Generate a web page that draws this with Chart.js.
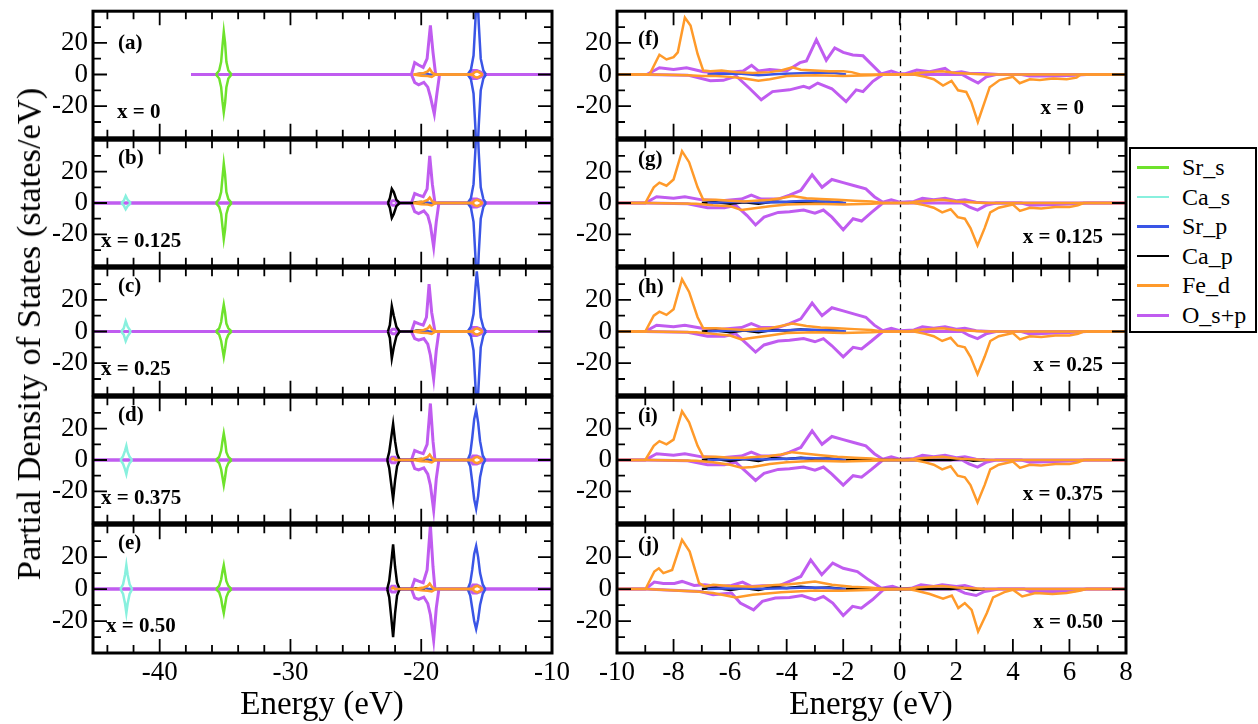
<!DOCTYPE html>
<html>
<head>
<meta charset="utf-8">
<script src="https://cdn.jsdelivr.net/npm/chart.js@4.4.1/dist/chart.umd.min.js"></script>
<style>
  body { margin: 0; background: #fff; width: 1258px; height: 724px; position: relative; overflow: hidden; font-family: "Liberation Serif", "Times New Roman", serif; }
  canvas { position: absolute; }
  .txt { position: absolute; white-space: nowrap; color: #000; }
  .tag { font-weight: bold; font-size: 21px; line-height: 24px; }
  .title { font-size: 33px; line-height: 36px; }
  .ytitle { font-size: 34.5px; line-height: 36px; }
  #legend { position: absolute; left: 1129px; top: 147px; width: 124px; height: 182px; border: 2px solid #000; background: #fff; }
  .leg-row { position: absolute; left: 6px; height: 28px; font-size: 24px; line-height: 28px; }
  .leg-line { position: absolute; left: 0; top: 13px; width: 32px; height: 2.5px; }
  .leg-text { position: absolute; left: 45px; top: 0; white-space: nowrap; }
</style>
</head>
<body>
<div id="legend"></div>
<script>
// species, in legend order
const seriesNames = ['Sr_s', 'Ca_s', 'Sr_p', 'Ca_p', 'Fe_d', 'O_s+p'];
const seriesColors = ['#6ee22c', '#88f0de', '#3a55e6', '#000000', '#ff9a2a', '#c05cf0'];

const leftLetters = ['(a)', '(b)', '(c)', '(d)', '(e)'];
const rightLetters = ['(f)', '(g)', '(h)', '(i)', '(j)'];
const compositions = ['x = 0', 'x = 0.125', 'x = 0.25', 'x = 0.375', 'x = 0.50'];

const leftRange = [-45.1, -10];
const rightRange = [-10, 8];
const yRange = [-40, 40];
const yLabelTicks = [20, 0, -20];

// ---------- left column: semicore states ----------
// (a) x = 0
const a_SrS_up = [[-35.7,0],[-35.45,2.5],[-35.3,8],[-35.2,18],[-35.1,27],[-35.0,20],[-34.9,8],[-34.75,2.5],[-34.5,0]];
const a_SrS_dn = [[-35.7,0],[-35.45,-2.5],[-35.3,-8],[-35.2,-17],[-35.1,-24],[-35.0,-18],[-34.9,-8],[-34.75,-2.5],[-34.5,0]];
const a_SrP_up = [[-20.4,0],[-20.1,0.6],[-19.6,0.6],[-19.4,0],[-16.45,0],[-16.2,3],[-16.0,12],[-15.85,35],[-15.75,60],[-15.6,32],[-15.45,10],[-15.25,2.5],[-15.05,0]];
const a_SrP_dn = [[-16.45,0],[-16.2,-3],[-16.0,-12],[-15.85,-35],[-15.75,-60],[-15.6,-32],[-15.45,-10],[-15.25,-2.5],[-15.05,0]];
const a_FeD_up = [[-20.6,0],[-20.2,0.5],[-19.8,1],[-19.5,2],[-19.35,3.5],[-19.15,1],[-18.9,0],[-16.1,0],[-15.9,1.5],[-15.7,2],[-15.5,1],[-15.3,0]];
const a_FeD_dn = [[-20.6,0],[-20.0,-0.8],[-19.5,-1],[-19.2,-1.5],[-18.9,0],[-16.1,0],[-15.9,-1.5],[-15.7,-2],[-15.5,-1],[-15.3,0]];
const a_OSP_up = [[-37.6,0],[-20.75,0],[-20.5,7.5],[-20.2,6],[-19.85,4.5],[-19.55,10],[-19.3,31],[-19.1,14],[-18.9,0],[-16.35,0],[-16.05,2.5],[-15.75,2.5],[-15.45,1.5],[-15.2,0],[-10,0]];
const a_OSP_dn = [[-37.6,0],[-20.75,0],[-20.5,-5],[-20.2,-6.5],[-19.8,-5],[-19.5,-8],[-19.3,-14],[-19.0,-25],[-18.8,-12],[-18.6,0],[-16.35,0],[-16.05,-2.5],[-15.75,-2.5],[-15.45,-1.5],[-15.2,0],[-10,0]];

// (b) x = 0.125
const b_CaS_up = [[-42.95,0],[-42.75,1.5],[-42.6,4.5],[-42.45,2],[-42.2,0]];
const b_CaS_dn = [[-42.95,0],[-42.75,-1.5],[-42.6,-4],[-42.45,-2],[-42.2,0]];
const b_SrS_up = [[-35.7,0],[-35.45,2.5],[-35.3,7],[-35.2,16],[-35.1,25],[-35.0,18],[-34.9,7],[-34.75,2.5],[-34.5,0]];
const b_SrS_dn = [[-35.7,0],[-35.45,-2.5],[-35.3,-7],[-35.2,-15],[-35.1,-23],[-35.0,-17],[-34.9,-7],[-34.75,-2.5],[-34.5,0]];
const b_SrP_up = [[-20.4,0],[-20.1,0.5],[-19.6,0.5],[-19.4,0],[-16.45,0],[-16.2,3],[-16.0,12],[-15.85,35],[-15.75,60],[-15.6,32],[-15.45,10],[-15.25,2.5],[-15.05,0]];
const b_SrP_dn = [[-16.45,0],[-16.2,-3],[-16.0,-12],[-15.85,-35],[-15.75,-60],[-15.6,-32],[-15.45,-10],[-15.25,-2.5],[-15.05,0]];
const b_CaP_up = [[-22.55,0],[-22.4,3],[-22.25,9],[-22.1,7],[-21.9,2],[-21.65,0],[-20.6,0],[-20.4,0.5],[-20.0,0.6],[-19.7,0]];
const b_CaP_dn = [[-22.55,0],[-22.4,-3],[-22.25,-9.5],[-22.1,-7],[-21.9,-2],[-21.65,0]];
const b_FeD_up = [[-20.6,0],[-20.2,0.5],[-19.8,1],[-19.5,2],[-19.35,3.5],[-19.15,1],[-18.9,0],[-16.1,0],[-15.9,1.5],[-15.7,2],[-15.5,1],[-15.3,0]];
const b_FeD_dn = [[-20.6,0],[-20.0,-0.8],[-19.5,-1],[-19.2,-1.5],[-18.9,0],[-16.1,0],[-15.9,-1.5],[-15.7,-2],[-15.5,-1],[-15.3,0]];
const b_OSP_up = [[-45.1,0],[-22.4,0],[-22.2,1.5],[-22.0,1.5],[-21.8,0],[-20.75,0],[-20.5,6],[-20.2,5],[-19.85,4],[-19.55,9],[-19.35,30],[-19.15,12],[-18.95,0],[-16.35,0],[-16.05,2.5],[-15.75,2.5],[-15.45,1.5],[-15.2,0],[-10,0]];
const b_OSP_dn = [[-45.1,0],[-22.4,0],[-22.2,-1.5],[-22.0,-1.5],[-21.8,0],[-20.75,0],[-20.5,-5.5],[-20.2,-6.7],[-19.8,-5],[-19.5,-8],[-19.3,-14],[-19.05,-28],[-18.85,-12],[-18.65,0],[-16.35,0],[-16.05,-2.5],[-15.75,-2.5],[-15.45,-1.5],[-15.2,0],[-10,0]];

// (c) x = 0.25
const c_CaS_up = [[-42.95,0],[-42.75,2],[-42.6,6.5],[-42.45,3],[-42.2,0]];
const c_CaS_dn = [[-42.95,0],[-42.75,-2],[-42.6,-6],[-42.45,-3],[-42.2,0]];
const c_SrS_up = [[-35.7,0],[-35.45,2],[-35.3,6],[-35.2,12],[-35.1,17],[-35.0,12],[-34.9,5],[-34.75,2],[-34.5,0]];
const c_SrS_dn = [[-35.7,0],[-35.45,-2],[-35.3,-6],[-35.2,-11],[-35.1,-16],[-35.0,-11],[-34.9,-5],[-34.75,-2],[-34.5,0]];
const c_SrP_up = [[-20.4,0],[-20.1,0.5],[-19.6,0.5],[-19.4,0],[-16.45,0],[-16.2,3],[-16.0,11],[-15.85,28],[-15.75,38],[-15.6,25],[-15.45,9],[-15.25,2.5],[-15.05,0]];
const c_SrP_dn = [[-16.45,0],[-16.2,-3],[-16.0,-12],[-15.85,-35],[-15.75,-55],[-15.6,-32],[-15.45,-10],[-15.25,-2.5],[-15.05,0]];
const c_CaP_up = [[-22.55,0],[-22.4,4],[-22.25,16],[-22.1,10],[-21.9,3],[-21.65,0],[-20.6,0],[-20.4,0.5],[-20.0,0.6],[-19.7,0]];
const c_CaP_dn = [[-22.55,0],[-22.4,-4],[-22.25,-17],[-22.1,-10],[-21.9,-3],[-21.65,0]];
const c_FeD_up = [[-20.6,0],[-20.2,0.5],[-19.8,1],[-19.5,2],[-19.35,3.5],[-19.15,1],[-18.9,0],[-16.1,0],[-15.9,1.5],[-15.7,2],[-15.5,1],[-15.3,0]];
const c_FeD_dn = [[-20.6,0],[-20.0,-0.8],[-19.5,-1],[-19.2,-1.5],[-18.9,0],[-16.1,0],[-15.9,-1.5],[-15.7,-2],[-15.5,-1],[-15.3,0]];
const c_OSP_up = [[-45.1,0],[-22.4,0],[-22.2,1.5],[-22.0,1.5],[-21.8,0],[-20.75,0],[-20.5,6],[-20.2,5],[-19.85,4],[-19.6,9],[-19.4,30],[-19.2,12],[-18.95,0],[-16.35,0],[-16.05,2.5],[-15.75,2.5],[-15.45,1.5],[-15.2,0],[-10,0]];
const c_OSP_dn = [[-45.1,0],[-22.4,0],[-22.2,-1.5],[-22.0,-1.5],[-21.8,0],[-20.75,0],[-20.5,-4.5],[-20.2,-5.5],[-19.8,-4.5],[-19.5,-8],[-19.3,-15],[-19.05,-30],[-18.85,-12],[-18.65,0],[-16.35,0],[-16.05,-2.5],[-15.75,-2.5],[-15.45,-1.5],[-15.2,0],[-10,0]];

// (d) x = 0.375
const d_CaS_up = [[-43.0,0],[-42.8,2.5],[-42.65,6],[-42.55,9],[-42.45,5],[-42.3,2],[-42.1,0]];
const d_CaS_dn = [[-43.0,0],[-42.8,-2.5],[-42.65,-6],[-42.55,-9],[-42.45,-5],[-42.3,-2],[-42.1,0]];
const d_SrS_up = [[-35.7,0],[-35.45,2],[-35.3,6],[-35.2,12],[-35.1,17],[-35.0,12],[-34.9,5],[-34.75,2],[-34.5,0]];
const d_SrS_dn = [[-35.7,0],[-35.45,-2],[-35.3,-6],[-35.2,-11],[-35.1,-16],[-35.0,-11],[-34.9,-5],[-34.75,-2],[-34.5,0]];
const d_SrP_up = [[-20.4,0],[-20.1,0.5],[-19.6,0.5],[-19.4,0],[-16.45,0],[-16.25,4],[-16.1,14],[-15.95,26],[-15.8,32],[-15.65,24],[-15.5,12],[-15.3,3],[-15.1,0]];
const d_SrP_dn = [[-16.45,0],[-16.25,-4],[-16.1,-14],[-15.95,-25],[-15.8,-31],[-15.65,-23],[-15.5,-11],[-15.3,-3],[-15.1,0]];
const d_CaP_up = [[-22.6,0],[-22.45,5],[-22.3,14],[-22.15,23],[-22.0,12],[-21.85,4],[-21.65,0],[-20.6,0],[-20.4,0.5],[-20.0,0.6],[-19.7,0]];
const d_CaP_dn = [[-22.6,0],[-22.45,-5],[-22.3,-15],[-22.15,-25],[-22.0,-13],[-21.85,-4],[-21.65,0]];
const d_FeD_up = [[-22.3,0],[-22.15,1],[-22.0,0],[-20.6,0],[-20.2,0.5],[-19.8,1],[-19.5,2],[-19.35,3.5],[-19.15,1],[-18.9,0],[-16.1,0],[-15.9,1.5],[-15.7,2],[-15.5,1],[-15.3,0]];
const d_FeD_dn = [[-20.6,0],[-20.0,-0.8],[-19.5,-1],[-19.2,-1.5],[-18.9,0],[-16.1,0],[-15.9,-1.5],[-15.7,-2],[-15.5,-1],[-15.3,0]];
const d_OSP_up = [[-45.1,0],[-22.45,0],[-22.25,1.8],[-22.0,1.8],[-21.8,0],[-20.75,0],[-20.5,6],[-20.2,5],[-19.85,4],[-19.55,10],[-19.3,36],[-19.1,12],[-18.95,0],[-16.35,0],[-16.05,2.5],[-15.75,2.5],[-15.45,1.5],[-15.2,0],[-10,0]];
const d_OSP_dn = [[-45.1,0],[-22.45,0],[-22.25,-1.8],[-22.0,-1.8],[-21.8,0],[-20.75,0],[-20.5,-5.5],[-20.2,-6.3],[-19.8,-5],[-19.5,-9],[-19.3,-16],[-19.05,-32],[-18.85,-12],[-18.65,0],[-16.35,0],[-16.05,-2.5],[-15.75,-2.5],[-15.45,-1.5],[-15.2,0],[-10,0]];

// (e) x = 0.50
const e_CaS_up = [[-43.0,0],[-42.8,3],[-42.65,9],[-42.55,15],[-42.45,9],[-42.3,3],[-42.1,0]];
const e_CaS_dn = [[-43.0,0],[-42.8,-3],[-42.65,-9],[-42.55,-15],[-42.45,-9],[-42.3,-3],[-42.1,0]];
const e_SrS_up = [[-35.7,0],[-35.45,2],[-35.3,6],[-35.2,11],[-35.1,15],[-35.0,10],[-34.9,5],[-34.75,2],[-34.5,0]];
const e_SrS_dn = [[-35.7,0],[-35.45,-2],[-35.3,-6],[-35.2,-11],[-35.1,-15],[-35.0,-10],[-34.9,-5],[-34.75,-2],[-34.5,0]];
const e_SrP_up = [[-20.4,0],[-20.1,0.5],[-19.6,0.5],[-19.4,0],[-16.45,0],[-16.25,4],[-16.1,12],[-15.95,22],[-15.8,27],[-15.65,20],[-15.5,10],[-15.3,3],[-15.1,0]];
const e_SrP_dn = [[-16.45,0],[-16.25,-4],[-16.1,-12],[-15.95,-20],[-15.8,-25],[-15.65,-19],[-15.5,-10],[-15.3,-3],[-15.1,0]];
const e_CaP_up = [[-22.6,0],[-22.45,5],[-22.3,16],[-22.15,28],[-22.0,14],[-21.85,4],[-21.65,0],[-20.6,0],[-20.4,0.5],[-20.0,0.6],[-19.7,0]];
const e_CaP_dn = [[-22.6,0],[-22.45,-5],[-22.3,-17],[-22.15,-30],[-22.0,-15],[-21.85,-4],[-21.65,0]];
const e_FeD_up = [[-22.3,0],[-22.15,1],[-22.0,0],[-20.6,0],[-20.2,0.5],[-19.8,1],[-19.5,2],[-19.35,3.5],[-19.15,1],[-18.9,0],[-16.1,0],[-15.9,1.5],[-15.7,2],[-15.5,1],[-15.3,0]];
const e_FeD_dn = [[-20.6,0],[-20.0,-0.8],[-19.5,-1],[-19.2,-1.5],[-18.9,0],[-16.1,0],[-15.9,-1.5],[-15.7,-2],[-15.5,-1],[-15.3,0]];
const e_OSP_up = [[-45.1,0],[-22.45,0],[-22.25,1.8],[-22.0,1.8],[-21.8,0],[-20.75,0],[-20.5,6],[-20.2,5],[-19.85,4],[-19.55,12],[-19.3,40],[-19.1,14],[-18.95,0],[-16.35,0],[-16.05,2.5],[-15.75,2.5],[-15.45,1.5],[-15.2,0],[-10,0]];
const e_OSP_dn = [[-45.1,0],[-22.45,0],[-22.25,-1.8],[-22.0,-1.8],[-21.8,0],[-20.75,0],[-20.5,-5.5],[-20.2,-6.5],[-19.8,-5],[-19.5,-9],[-19.3,-16],[-19.05,-32],[-18.85,-12],[-18.65,0],[-16.35,0],[-16.05,-2.5],[-15.75,-2.5],[-15.45,-1.5],[-15.2,0],[-10,0]];

// ---------- right column: valence / conduction ----------
// (f) x = 0
const f_FeD_up = [[-10,0],[-8.85,0],[-8.5,12.5],[-8.25,9.5],[-8.0,11],[-7.85,14],[-7.6,36],[-7.4,31],[-7.15,13],[-6.95,2.5],[-6.7,2],[-6.3,2.5],[-5.8,1.5],[-5.2,1],[-4.6,1.5],[-4.2,2.5],[-3.8,4.5],[-3.5,3],[-3.0,2.5],[-2.5,2],[-2.0,2],[-1.7,1.5],[-1.4,0],[0.3,0],[0.6,1],[1.0,1.5],[1.5,2],[2.0,1],[2.5,0.5],[3.0,0],[8,0]];
const f_FeD_dn = [[-10,0],[-8.9,0],[-7.5,-0.5],[-7.0,-1],[-6.5,-1],[-6.0,-1.5],[-5.5,-2.5],[-5.0,-4],[-4.6,-3],[-4.0,-1],[-3.0,-0.5],[-2.0,-1],[-1.0,-0.5],[-0.5,0],[0.5,0],[0.9,-1.5],[1.2,-3],[1.53,-7],[1.83,-4],[2.06,-10],[2.35,-11],[2.53,-17.5],[2.76,-30],[3.0,-17.5],[3.18,-8],[3.53,-3.5],[4.0,-1.5],[4.24,-5.5],[4.6,-3],[4.95,-3.5],[5.42,-2.5],[5.9,-3],[6.25,-2],[6.4,0],[8,0]];
const f_OSP_up = [[-10,0],[-8.95,0],[-8.5,4.3],[-8.0,3.2],[-7.54,4.3],[-6.95,1.7],[-6.24,1],[-5.54,2.2],[-5.24,5.8],[-5.0,2.2],[-4.6,3.2],[-4.0,2.2],[-3.53,7.5],[-3.3,8.6],[-2.95,22],[-2.6,9],[-2.3,16.8],[-2.0,14],[-1.66,12.3],[-1.3,11.8],[-1.06,7.5],[-0.66,0.4],[-0.3,2.2],[0,0.4],[0.2,0.5],[0.6,2.8],[1.06,1.7],[1.6,3.9],[1.83,1],[2.18,1.7],[2.47,0.6],[2.95,0.6],[3.5,0],[8,0]];
const f_OSP_dn = [[-10,0],[-8.95,0],[-7.5,-0.4],[-6.7,-3.9],[-6.24,-3.7],[-5.78,-1],[-5.3,-9],[-4.9,-16],[-4.5,-10.8],[-3.9,-9.7],[-3.4,-7.5],[-3.2,-8.6],[-2.9,-5.4],[-2.4,-9],[-1.9,-17.2],[-1.54,-9.7],[-1.3,-10.8],[-0.95,-4.3],[-0.6,0],[2.2,0],[2.47,-2.6],[2.77,-5.4],[3.06,-1.5],[3.4,0],[4.3,0],[4.6,-1],[5.5,-1],[6.2,-0.5],[6.6,0],[8,0]];
const f_SrP = [[-6.8,0],[-6.5,0.5],[-5.6,0.5],[-5.0,-0.5],[-4.3,0.3],[-3.5,0.8],[-2.9,1.3],[-2.3,1],[-1.9,0]];

// (g) x = 0.125
const g_FeD_up = [[-10,0],[-9.0,0],[-8.7,10],[-8.5,13],[-8.25,11],[-8.0,15],[-7.7,33],[-7.45,26],[-7.15,10],[-6.95,2],[-6.5,2],[-6.0,1.5],[-5.5,1],[-4.6,2],[-4.2,3],[-3.8,4.5],[-3.3,3],[-2.8,2.5],[-2.2,2],[-1.6,1.5],[-1.0,1],[-0.6,0],[0.3,0],[0.6,1],[1.0,1.5],[1.5,2],[2.0,1],[2.5,0.5],[3.0,0],[8,0]];
const g_FeD_dn = [[-10,0],[-9.0,0],[-7.2,-0.5],[-6.6,-1.5],[-6.0,-2],[-5.6,-4.5],[-5.2,-3.5],[-4.6,-2],[-4.0,-1],[-3.0,-0.5],[-2.0,-1],[-1.0,-0.5],[-0.5,0],[0.5,0],[0.9,-1.5],[1.2,-3],[1.5,-6],[1.8,-4],[2.05,-9],[2.3,-10],[2.5,-16],[2.75,-27],[3.0,-16],[3.2,-6],[3.5,-3],[4.0,-1],[4.25,-5],[4.6,-3],[5.0,-3.5],[5.5,-2.5],[6.0,-2.5],[6.3,-1.5],[6.5,0],[8,0]];
const g_OSP_up = [[-10,0],[-9.0,0],[-8.6,4],[-8.0,3],[-7.6,4],[-7.0,2],[-6.3,1.5],[-5.6,2.5],[-5.25,5],[-4.9,2.5],[-4.3,2.5],[-3.9,5],[-3.5,8],[-3.1,18],[-2.75,10],[-2.4,15],[-2.0,13],[-1.6,11],[-1.2,9],[-0.9,4],[-0.6,0.5],[-0.3,2],[0,0.5],[0.5,1],[0.8,3],[1.2,2],[1.6,3],[2.0,1.5],[2.3,2],[2.7,0.5],[3.2,0],[8,0]];
const g_OSP_dn = [[-10,0],[-9.0,0],[-7.5,-0.5],[-6.8,-3],[-6.2,-3],[-5.8,-1.5],[-5.4,-8],[-5.1,-14],[-4.8,-9],[-4.3,-6],[-3.9,-5.5],[-3.4,-4.5],[-3.0,-6.5],[-2.7,-4.5],[-2.4,-9],[-2.0,-17],[-1.65,-10],[-1.35,-11.5],[-1.0,-6],[-0.6,0],[2.2,0],[2.45,-2.5],[2.75,-4.5],[3.05,-1.5],[3.4,0],[4.3,0],[4.6,-1.5],[5.5,-1],[6.2,-0.5],[6.6,0],[8,0]];
const g_SrP = [[-6.8,0],[-6.2,0.5],[-5.5,0.8],[-4.8,0.3],[-4.0,0.8],[-3.3,1.5],[-2.8,1],[-2.2,0.5],[-1.9,0]];
const g_CaP = [[-7.0,0],[-6.5,0.5],[-6.0,-0.5],[-5.5,0.5],[-5.0,-0.5],[-4.5,0.8],[-4.0,0.5],[-3.5,1],[-3.0,0.5],[-2.5,0.8],[-2.0,0]];

// (h) x = 0.25
const h_FeD_up = [[-10,0],[-9.0,0],[-8.7,10],[-8.5,12.5],[-8.25,10.5],[-8.0,14],[-7.7,33],[-7.45,25],[-7.15,9],[-6.95,2],[-6.5,2],[-6.0,1.5],[-5.5,1],[-4.6,2],[-4.2,3.5],[-3.8,5],[-3.3,3.5],[-2.8,2.5],[-2.2,2],[-1.6,1.5],[-1.0,1],[-0.6,0],[0.3,0],[0.6,1],[1.0,1.5],[1.5,2],[2.0,1],[2.5,0.5],[3.0,0],[8,0]];
const h_FeD_dn = [[-10,0],[-9.0,0],[-7.2,-0.5],[-6.6,-1.5],[-6.0,-2.5],[-5.6,-5],[-5.2,-4],[-4.6,-2.5],[-4.0,-1],[-3.0,-0.5],[-2.0,-1],[-1.0,-0.5],[-0.5,0],[0.5,0],[0.9,-1.5],[1.2,-3],[1.5,-6],[1.8,-4],[2.05,-9],[2.3,-10],[2.5,-16],[2.75,-27],[3.0,-16],[3.2,-6],[3.5,-3],[4.0,-1],[4.25,-5],[4.6,-3],[5.0,-3.5],[5.5,-2.5],[6.0,-2.5],[6.3,-1.5],[6.5,0],[8,0]];
const h_OSP_up = [[-10,0],[-9.0,0],[-8.6,4],[-8.0,3],[-7.6,4],[-7.0,2],[-6.3,1.5],[-5.6,2.5],[-5.25,5],[-4.9,2.5],[-4.3,2.5],[-3.9,5],[-3.5,8],[-3.1,18],[-2.75,10],[-2.4,15],[-2.0,13],[-1.6,11],[-1.2,9],[-0.9,4],[-0.6,0.5],[-0.3,2],[0,0.5],[0.5,1],[0.8,3],[1.2,2],[1.6,3],[2.0,1.5],[2.3,2],[2.7,0.5],[3.2,0],[8,0]];
const h_OSP_dn = [[-10,0],[-9.0,0],[-7.5,-0.5],[-6.8,-3],[-6.2,-3],[-5.8,-1.5],[-5.4,-8],[-5.1,-13],[-4.8,-8.5],[-4.3,-6],[-3.9,-5.5],[-3.4,-4.5],[-3.0,-6.5],[-2.7,-4.5],[-2.4,-9],[-2.0,-16],[-1.65,-10],[-1.35,-11],[-1.0,-6],[-0.6,0],[2.2,0],[2.45,-2.5],[2.75,-4.5],[3.05,-1.5],[3.4,0],[4.3,0],[4.6,-1.5],[5.5,-1],[6.2,-0.5],[6.6,0],[8,0]];
const h_SrP = [[-6.8,0],[-6.2,0.5],[-5.5,0.8],[-4.8,0.3],[-4.0,0.8],[-3.3,1.2],[-2.8,1],[-2.2,0.5],[-1.9,0]];
const h_CaP = [[-7.0,0],[-6.5,0.6],[-6.0,-0.5],[-5.5,0.6],[-5.0,-0.5],[-4.5,1],[-4.0,0.6],[-3.5,1.2],[-3.0,0.6],[-2.5,0.8],[-2.0,0]];

// (i) x = 0.375
const i_FeD_up = [[-10,0],[-9.0,0],[-8.7,9],[-8.5,12],[-8.25,10],[-8.0,13],[-7.7,31],[-7.45,24],[-7.15,9],[-6.95,2],[-6.5,2],[-6.0,1.5],[-5.5,1.5],[-4.6,2.5],[-4.2,3.5],[-3.8,5],[-3.3,4],[-2.8,3],[-2.2,2],[-1.6,1.5],[-1.0,1],[-0.6,0],[0.3,0],[0.6,1],[1.0,1.5],[1.5,2],[2.0,1],[2.5,0.5],[3.0,0],[8,0]];
const i_FeD_dn = [[-10,0],[-9.0,0],[-7.2,-0.5],[-6.6,-1.5],[-6.0,-3],[-5.6,-5],[-5.2,-4.5],[-4.6,-2.5],[-4.0,-1.5],[-3.0,-0.5],[-2.0,-1],[-1.0,-0.5],[-0.5,0],[0.5,0],[0.9,-1.5],[1.2,-3],[1.5,-6],[1.8,-4],[2.05,-10],[2.3,-11],[2.5,-16],[2.75,-27],[3.0,-16],[3.2,-6],[3.5,-3],[4.0,-1],[4.25,-5],[4.6,-3],[5.0,-3.5],[5.5,-2.5],[6.0,-2.5],[6.3,-1.5],[6.5,0],[8,0]];
const i_OSP_up = [[-10,0],[-9.0,0],[-8.6,4],[-8.0,3],[-7.6,4],[-7.0,2],[-6.3,1.5],[-5.6,2.5],[-5.25,5],[-4.9,2.5],[-4.3,2.5],[-3.9,5],[-3.5,8],[-3.1,18.5],[-2.75,10],[-2.4,15],[-2.0,13],[-1.6,11],[-1.2,9],[-0.9,4],[-0.6,0.5],[-0.3,2],[0,0.5],[0.5,1],[0.8,3],[1.2,2],[1.6,3],[2.0,1.5],[2.3,2],[2.7,0.5],[3.2,0],[8,0]];
const i_OSP_dn = [[-10,0],[-9.0,0],[-7.5,-0.5],[-6.8,-3],[-6.2,-3],[-5.8,-1.5],[-5.4,-8],[-5.1,-13],[-4.8,-8.5],[-4.3,-6],[-3.9,-5.5],[-3.4,-4.5],[-3.0,-6.5],[-2.7,-4.5],[-2.4,-9],[-2.0,-16],[-1.65,-10],[-1.35,-11],[-1.0,-6],[-0.6,0],[2.2,0],[2.45,-2.5],[2.75,-4.5],[3.05,-1.5],[3.4,0],[4.3,0],[4.6,-1.5],[5.5,-1],[6.2,-0.5],[6.6,0],[8,0]];
const i_SrP = [[-6.8,0],[-6.2,0.5],[-5.5,0.8],[-4.8,0.3],[-4.0,0.8],[-3.3,1.2],[-2.8,1],[-2.2,0.5],[-1.9,0]];
const i_CaP = [[-7.0,0],[-6.5,0.7],[-6.0,-0.6],[-5.5,0.7],[-5.0,-0.6],[-4.5,1.2],[-4.0,0.7],[-3.5,1.4],[-3.0,0.7],[-2.5,1],[-2.0,0],[1.8,0],[2.2,0.8],[2.6,-0.5],[3.0,0]];

// (j) x = 0.50
const j_FeD_up = [[-10,0],[-8.99,0],[-8.68,11],[-8.52,13],[-8.36,10],[-8.05,12],[-7.7,30.8],[-7.43,23.5],[-7.1,3.75],[-6.9,1.7],[-6.6,2.7],[-6.0,2],[-5.2,1.5],[-4.4,2.5],[-3.9,3],[-3.46,3.75],[-3.0,4.8],[-2.4,2.7],[-1.7,1.5],[-1.1,1],[-0.5,0],[0.3,0],[0.6,1],[1.0,1.5],[1.5,2],[2.0,1],[2.5,0.5],[3.0,0],[8,0]];
const j_FeD_dn = [[-10,0],[-8.99,0],[-7.2,-1.5],[-6.6,-2.5],[-5.8,-5.2],[-5.2,-3.5],[-4.2,-1.9],[-3.15,-1],[-2.05,-1],[-0.8,-0.4],[0.3,0],[0.6,-1],[1.06,-3.1],[1.53,-6],[1.84,-4],[2.07,-11.9],[2.3,-8.75],[2.54,-13],[2.77,-26.5],[3.08,-15],[3.3,-5.2],[3.7,-1.9],[4.0,-0.4],[4.33,-4.6],[4.8,-2.5],[5.4,-3.1],[5.9,-2.5],[6.35,-1],[6.6,0],[8,0]];
const j_OSP_up = [[-10,0],[-9.0,0],[-8.68,4.4],[-8.36,3.5],[-7.97,3.5],[-7.7,4.8],[-7.27,2.3],[-6.9,2.7],[-6.4,1.7],[-5.95,2.3],[-5.56,4.4],[-5.25,1.7],[-4.86,2.1],[-4.24,2.3],[-3.9,4.8],[-3.5,7.9],[-3.15,18.3],[-2.76,9],[-2.37,16.3],[-2.0,13],[-1.5,11],[-1.1,5.8],[-0.65,0.6],[-0.26,1.7],[0.05,0],[0.4,0.5],[0.75,2.7],[1.2,1.7],[1.5,2.7],[2.0,1.7],[2.3,2.3],[2.77,0],[8,0]];
const j_OSP_dn = [[-10,0],[-9.0,0],[-7.05,-1.5],[-6.6,-3.5],[-5.95,-2.5],[-5.64,-8.75],[-5.17,-13],[-4.86,-7.7],[-4.4,-5.6],[-3.9,-5.2],[-3.46,-4],[-3.0,-6.7],[-2.7,-4.6],[-2.37,-8.75],[-2.0,-16.5],[-1.67,-10.8],[-1.36,-11.9],[-0.97,-6.7],[-0.58,-0.4],[-0.3,0],[2.0,0],[2.3,-2.5],[2.7,-4],[3.0,-1.5],[3.5,0],[4.4,0],[4.6,-1.5],[5.5,-1.5],[6.2,-1],[6.6,0],[8,0]];
const j_SrP = [[-6.8,0],[-6.2,0.3],[-5.5,0.5],[-4.8,0.2],[-4.0,0.5],[-3.3,1],[-2.8,0.8],[-2.2,0.4],[-1.9,0]];
const j_CaP = [[-7.0,0],[-6.5,0.8],[-6.0,-0.6],[-5.5,0.7],[-5.0,-0.6],[-4.5,1.2],[-4.0,0.7],[-3.5,1.4],[-3.0,0.7],[-2.5,1],[-2.0,0],[1.8,0],[2.2,0.8],[2.6,-0.5],[3.0,0]];

const leftPanels = [
  { 'Sr_s': [a_SrS_up, a_SrS_dn], 'Sr_p': [a_SrP_up, a_SrP_dn], 'Fe_d': [a_FeD_up, a_FeD_dn], 'O_s+p': [a_OSP_up, a_OSP_dn] },
  { 'Sr_s': [b_SrS_up, b_SrS_dn], 'Ca_s': [b_CaS_up, b_CaS_dn], 'Sr_p': [b_SrP_up, b_SrP_dn], 'Ca_p': [b_CaP_up, b_CaP_dn], 'Fe_d': [b_FeD_up, b_FeD_dn], 'O_s+p': [b_OSP_up, b_OSP_dn] },
  { 'Sr_s': [c_SrS_up, c_SrS_dn], 'Ca_s': [c_CaS_up, c_CaS_dn], 'Sr_p': [c_SrP_up, c_SrP_dn], 'Ca_p': [c_CaP_up, c_CaP_dn], 'Fe_d': [c_FeD_up, c_FeD_dn], 'O_s+p': [c_OSP_up, c_OSP_dn] },
  { 'Sr_s': [d_SrS_up, d_SrS_dn], 'Ca_s': [d_CaS_up, d_CaS_dn], 'Sr_p': [d_SrP_up, d_SrP_dn], 'Ca_p': [d_CaP_up, d_CaP_dn], 'Fe_d': [d_FeD_up, d_FeD_dn], 'O_s+p': [d_OSP_up, d_OSP_dn] },
  { 'Sr_s': [e_SrS_up, e_SrS_dn], 'Ca_s': [e_CaS_up, e_CaS_dn], 'Sr_p': [e_SrP_up, e_SrP_dn], 'Ca_p': [e_CaP_up, e_CaP_dn], 'Fe_d': [e_FeD_up, e_FeD_dn], 'O_s+p': [e_OSP_up, e_OSP_dn] }
];
const rightPanels = [
  { 'Sr_p': [f_SrP], 'Fe_d': [f_FeD_up, f_FeD_dn], 'O_s+p': [f_OSP_up, f_OSP_dn] },
  { 'Sr_p': [g_SrP], 'Ca_p': [g_CaP], 'Fe_d': [g_FeD_up, g_FeD_dn], 'O_s+p': [g_OSP_up, g_OSP_dn] },
  { 'Sr_p': [h_SrP], 'Ca_p': [h_CaP], 'Fe_d': [h_FeD_up, h_FeD_dn], 'O_s+p': [h_OSP_up, h_OSP_dn] },
  { 'Sr_p': [i_SrP], 'Ca_p': [i_CaP], 'Fe_d': [i_FeD_up, i_FeD_dn], 'O_s+p': [i_OSP_up, i_OSP_dn] },
  { 'Sr_p': [j_SrP], 'Ca_p': [j_CaP], 'Fe_d': [j_FeD_up, j_FeD_dn], 'O_s+p': [j_OSP_up, j_OSP_dn] }
];

// ---------- layout ----------
const rowTops = [10, 139, 267, 396, 524];
const rowBottom = 653;
const cols = [
  { left: 93, right: 552, range: leftRange, step: 2, major: 10, letters: leftLetters, panels: leftPanels },
  { left: 617, right: 1126, range: rightRange, step: 1, major: 2, letters: rightLetters, panels: rightPanels }
];
const drawOrder = ['Fe_d', 'Sr_s', 'Ca_s', 'Sr_p', 'Ca_p', 'O_s+p'];
const AXIS_W = 60, PAD = 20, PAD_R = 26, XAXIS_H = 48;
const FONT = '"Liberation Serif", "Times New Roman", serif';

// frame with inward ticks, like the xmgrace original
const framePlugin = {
  id: 'frame',
  beforeDatasetsDraw(chart, args, opts) {
    if (!opts.zeroLine) return;
    const { ctx, chartArea: a, scales: { x } } = chart;
    const px = Math.round(x.getPixelForValue(0)) + 0.5;
    ctx.save();
    ctx.strokeStyle = '#000';
    ctx.lineWidth = 1.3;
    ctx.setLineDash([7, 5]);
    ctx.beginPath();
    ctx.moveTo(px, a.top);
    ctx.lineTo(px, a.bottom);
    ctx.stroke();
    ctx.restore();
  },
  afterDatasetsDraw(chart, args, opts) {
    const { ctx, chartArea: a, scales: { x, y } } = chart;
    ctx.save();
    ctx.strokeStyle = '#000';
    ctx.lineWidth = 1.8;
    ctx.beginPath();
    for (let v = -30; v <= 30; v += 10) {
      const py = y.getPixelForValue(v);
      const len = v % 20 === 0 ? 14 : 8;
      ctx.moveTo(a.left, py); ctx.lineTo(a.left + len, py);
      ctx.moveTo(a.right, py); ctx.lineTo(a.right - len, py);
    }
    const [lo, hi] = opts.range;
    for (let v = Math.ceil(lo / opts.step) * opts.step; v < hi; v += opts.step) {
      if (v <= lo) continue;
      const px = x.getPixelForValue(v);
      const len = v % opts.major === 0 ? 14 : 8;
      ctx.moveTo(px, a.top); ctx.lineTo(px, a.top + len);
      ctx.moveTo(px, a.bottom); ctx.lineTo(px, a.bottom - len);
    }
    ctx.stroke();
    ctx.lineWidth = 3;
    ctx.strokeRect(a.left, a.top, a.right - a.left, a.bottom - a.top);
    ctx.restore();
  }
};

function addText(cls, text, style) {
  const d = document.createElement('div');
  d.className = 'txt ' + cls;
  d.textContent = text;
  Object.assign(d.style, style);
  document.body.appendChild(d);
  return d;
}

function makePanel(ci, row) {
  const c = cols[ci];
  const top = rowTops[row];
  const bottom = row < 4 ? rowTops[row + 1] : rowBottom;
  const isBottom = row === 4;
  const cv = document.createElement('canvas');
  cv.width = c.right - c.left + AXIS_W + PAD_R;
  cv.height = bottom - top + PAD * 2 + (isBottom ? XAXIS_H : 0);
  cv.style.left = (c.left - AXIS_W) + 'px';
  cv.style.top = (top - PAD) + 'px';
  document.body.appendChild(cv);

  const series = c.panels[row];
  const datasets = [];
  drawOrder.forEach(name => {
    const color = seriesColors[seriesNames.indexOf(name)];
    (series[name] || []).forEach(arr => datasets.push({
      label: name,
      data: arr,
      borderColor: color,
      borderWidth: name === 'O_s+p' ? 3 : 2.5,
      pointRadius: 0,
      tension: 0,
      fill: false
    }));
  });

  new Chart(cv, {
    type: 'line',
    data: { datasets },
    options: {
      responsive: false,
      animation: false,
      devicePixelRatio: 1,
      layout: { padding: { top: PAD, bottom: PAD, left: 0, right: PAD_R } },
      plugins: {
        legend: { display: false },
        tooltip: { enabled: false },
        frame: { range: c.range, step: c.step, major: c.major, zeroLine: ci === 1 }
      },
      scales: {
        x: {
          type: 'linear',
          min: c.range[0],
          max: c.range[1],
          display: isBottom,
          grid: { display: false, drawTicks: false },
          border: { display: false },
          ticks: {
            stepSize: c.step,
            autoSkip: false,
            maxRotation: 0,
            padding: 4,
            color: '#000',
            font: { family: FONT, size: 27 },
            callback: v => (Math.abs(v % c.major) < 1e-9 ? String(v) : '')
          },
          afterFit: s => { if (isBottom) s.height = XAXIS_H; }
        },
        y: {
          min: yRange[0],
          max: yRange[1],
          grid: { display: false, drawTicks: false },
          border: { display: false },
          ticks: {
            stepSize: 10,
            autoSkip: false,
            padding: 5,
            color: '#000',
            font: { family: FONT, size: 27 },
            callback: v => (yLabelTicks.includes(v) ? String(v) : '')
          },
          afterFit: s => { s.width = AXIS_W; }
        }
      }
    },
    plugins: [framePlugin]
  });
}

for (let ci = 0; ci < 2; ci++) {
  for (let r = 0; r < 5; r++) makePanel(ci, r);
}

// panel tags
const leftTagOffset = [32, 18, 18, 18, 18];
const rightTagOffset = [28, 19, 19, 19, 20];
const leftCompX = [117, 101, 101, 101, 106];
const rightCompRight = [1084, 1103, 1103, 1103, 1103];
for (let r = 0; r < 5; r++) {
  addText('tag', leftLetters[r], { left: '118px', top: (rowTops[r] + leftTagOffset[r] - 12) + 'px' });
  addText('tag', rightLetters[r], { left: '638px', top: (rowTops[r] + rightTagOffset[r] - 12) + 'px' });
  addText('tag', compositions[r], { left: leftCompX[r] + 'px', top: (rowTops[r] + 101 - 12) + 'px' });
  addText('tag', compositions[r], { right: (1258 - rightCompRight[r]) + 'px', top: (rowTops[r] + 97 - 12) + 'px' });
}

// axis titles
addText('title', 'Energy (eV)', { left: '322px', top: '685px', transform: 'translateX(-50%)' });
addText('title', 'Energy (eV)', { left: '871px', top: '685px', transform: 'translateX(-50%)' });
addText('ytitle', 'Partial Density of States (states/eV)', {
  left: '28px', top: '334px', transform: 'translate(-50%, -50%) rotate(-90deg)'
});

// legend
const legend = document.getElementById('legend');
seriesNames.forEach((name, i) => {
  const row = document.createElement('div');
  row.className = 'leg-row';
  row.style.top = (4 + i * 29.6) + 'px';
  const ln = document.createElement('div');
  ln.className = 'leg-line';
  ln.style.background = seriesColors[i];
  const tx = document.createElement('div');
  tx.className = 'leg-text';
  tx.textContent = name;
  row.appendChild(ln);
  row.appendChild(tx);
  legend.appendChild(row);
});
</script>
</body>
</html>
